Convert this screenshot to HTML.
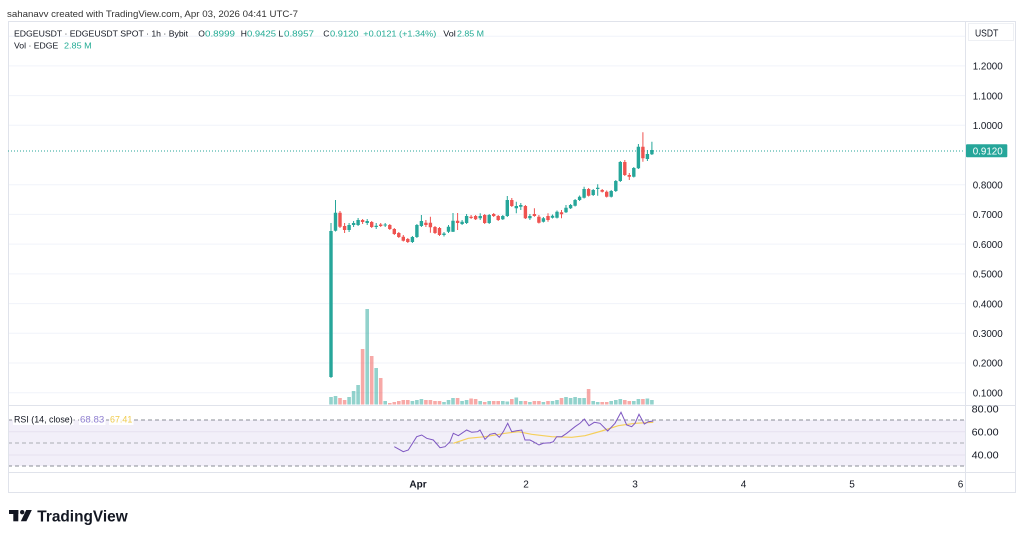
<!DOCTYPE html>
<html>
<head>
<meta charset="utf-8">
<style>
html,body{margin:0;padding:0;background:#fff;}
svg{display:block;font-family:"Liberation Sans",Arial,sans-serif;}
</style>
</head>
<body>
<svg width="1024" height="539" viewBox="0 0 1024 539" xmlns="http://www.w3.org/2000/svg">
<rect x="0" y="0" width="1024" height="539" fill="#ffffff"/>

<!-- header -->
<text x="7" y="17" font-size="9.5" fill="#333" textLength="291" lengthAdjust="spacingAndGlyphs">sahanavv created with TradingView.com, Apr 03, 2026 04:41 UTC-7</text>

<!-- gridlines main pane -->
<g stroke="#f0f3fa" stroke-width="1">
<line x1="8" y1="36.2" x2="965" y2="36.2"/>
<line x1="8" y1="65.9" x2="965" y2="65.9"/>
<line x1="8" y1="95.6" x2="965" y2="95.6"/>
<line x1="8" y1="125.3" x2="965" y2="125.3"/>
<line x1="8" y1="184.7" x2="965" y2="184.7"/>
<line x1="8" y1="214.4" x2="965" y2="214.4"/>
<line x1="8" y1="244.1" x2="965" y2="244.1"/>
<line x1="8" y1="273.9" x2="965" y2="273.9"/>
<line x1="8" y1="303.6" x2="965" y2="303.6"/>
<line x1="8" y1="333.3" x2="965" y2="333.3"/>
<line x1="8" y1="363" x2="965" y2="363"/>
<line x1="8" y1="392.7" x2="965" y2="392.7"/>
</g>

<!-- RSI pane band -->
<rect x="8" y="420" width="957" height="46" fill="#f2eff9"/>
<line x1="8" y1="431.7" x2="965" y2="431.7" stroke="#e6e1f0" stroke-width="1"/>
<line x1="8" y1="455" x2="965" y2="455" stroke="#e6e1f0" stroke-width="1"/>
<line x1="8" y1="420" x2="965" y2="420" stroke="#8a8d96" stroke-width="1" stroke-dasharray="4,3"/>
<line x1="8" y1="443" x2="965" y2="443" stroke="#a9acb4" stroke-width="1" stroke-dasharray="4,3"/>
<line x1="8" y1="466" x2="965" y2="466" stroke="#8a8d96" stroke-width="1" stroke-dasharray="4,3"/>

<!-- frame -->
<rect x="8.5" y="21.5" width="1007" height="471" fill="none" stroke="#e0e3eb" stroke-width="1"/>
<line x1="965.5" y1="21" x2="965.5" y2="493" stroke="#e0e3eb" stroke-width="1"/>
<line x1="8" y1="405.5" x2="1016" y2="405.5" stroke="#e0e3eb" stroke-width="1"/>
<line x1="8" y1="472.5" x2="1016" y2="472.5" stroke="#e0e3eb" stroke-width="1"/>

<!-- legend -->
<text x="14" y="36.7" font-size="8.5" fill="#131722" textLength="174" lengthAdjust="spacingAndGlyphs">EDGEUSDT · EDGEUSDT SPOT · 1h · Bybit</text>
<g font-size="8.5">
<text x="198.3" y="36.7" fill="#131722">O</text>
<text x="205" y="36.7" fill="#22ab94" textLength="30" lengthAdjust="spacingAndGlyphs">0.8999</text>
<text x="240.7" y="36.7" fill="#131722">H</text>
<text x="247" y="36.7" fill="#22ab94" textLength="29" lengthAdjust="spacingAndGlyphs">0.9425</text>
<text x="278.5" y="36.7" fill="#131722">L</text>
<text x="284" y="36.7" fill="#22ab94" textLength="30" lengthAdjust="spacingAndGlyphs">0.8957</text>
<text x="323.3" y="36.7" fill="#131722">C</text>
<text x="330" y="36.7" fill="#22ab94" textLength="28.5" lengthAdjust="spacingAndGlyphs">0.9120</text>
<text x="363.3" y="36.7" fill="#22ab94" textLength="73" lengthAdjust="spacingAndGlyphs">+0.0121 (+1.34%)</text>
<text x="443.3" y="36.7" fill="#131722" textLength="12.5" lengthAdjust="spacingAndGlyphs">Vol</text>
<text x="457" y="36.7" fill="#22ab94" textLength="27" lengthAdjust="spacingAndGlyphs">2.85 M</text>
<text x="14" y="48.7" fill="#131722" textLength="44.3" lengthAdjust="spacingAndGlyphs">Vol · EDGE</text>
<text x="64" y="48.7" fill="#22ab94" textLength="27.7" lengthAdjust="spacingAndGlyphs">2.85 M</text>
</g>

<!-- price axis -->
<rect x="968.5" y="23.5" width="45" height="17" fill="#fff" stroke="#eef0f4" stroke-width="1"/>
<text x="975" y="36.7" font-size="10" fill="#131722" textLength="23.3" lengthAdjust="spacingAndGlyphs">USDT</text>
<g font-size="10.5" fill="#131722">
<text x="972.7" y="69.6" textLength="30" lengthAdjust="spacingAndGlyphs">1.2000</text>
<text x="972.7" y="99.3" textLength="30" lengthAdjust="spacingAndGlyphs">1.1000</text>
<text x="972.7" y="129" textLength="30" lengthAdjust="spacingAndGlyphs">1.0000</text>
<text x="972.7" y="188.4" textLength="30" lengthAdjust="spacingAndGlyphs">0.8000</text>
<text x="972.7" y="218.1" textLength="30" lengthAdjust="spacingAndGlyphs">0.7000</text>
<text x="972.7" y="247.8" textLength="30" lengthAdjust="spacingAndGlyphs">0.6000</text>
<text x="972.7" y="277.6" textLength="30" lengthAdjust="spacingAndGlyphs">0.5000</text>
<text x="972.7" y="307.3" textLength="30" lengthAdjust="spacingAndGlyphs">0.4000</text>
<text x="972.7" y="337" textLength="30" lengthAdjust="spacingAndGlyphs">0.3000</text>
<text x="972.7" y="366.7" textLength="30" lengthAdjust="spacingAndGlyphs">0.2000</text>
<text x="972.7" y="396.4" textLength="30" lengthAdjust="spacingAndGlyphs">0.1000</text>
<text x="971.7" y="412.7" textLength="27" lengthAdjust="spacingAndGlyphs">80.00</text>
<text x="971.7" y="435.7" textLength="27" lengthAdjust="spacingAndGlyphs">60.00</text>
<text x="971.7" y="458.4" textLength="27" lengthAdjust="spacingAndGlyphs">40.00</text>
</g>

<!-- last price line -->
<line x1="8" y1="151" x2="965" y2="151" stroke="#26a69a" stroke-width="1" stroke-dasharray="1,2"/>
<rect x="966" y="144.3" width="41.3" height="13" fill="#26a69a" rx="1"/>
<text x="972.7" y="154.6" font-size="10.5" fill="#ffffff" textLength="30" lengthAdjust="spacingAndGlyphs">0.9120</text>

<!-- volume -->
<path fill="#26a69a" fill-opacity="0.5" d="M329.2 397h3.6V404.5h-3.6zM333.7 396h3.6V404.5h-3.6zM347.3 397h3.6V404.5h-3.6zM351.8 391h3.6V404.5h-3.6zM356.3 385h3.6V404.5h-3.6zM365.4 309h3.6V404.5h-3.6zM374.4 368h3.6V404.5h-3.6zM383.4 401h3.6V404.5h-3.6zM410.6 401h3.6V404.5h-3.6zM415.1 400h3.6V404.5h-3.6zM419.6 399h3.6V404.5h-3.6zM442.2 402h3.6V404.5h-3.6zM446.7 400h3.6V404.5h-3.6zM451.2 398h3.6V404.5h-3.6zM460.3 401h3.6V404.5h-3.6zM464.8 400h3.6V404.5h-3.6zM478.4 401h3.6V404.5h-3.6zM487.4 401h3.6V404.5h-3.6zM501 401h3.6V404.5h-3.6zM505.5 401.5h3.6V404.5h-3.6zM514.5 397.5h3.6V404.5h-3.6zM519 401h3.6V404.5h-3.6zM528.1 402h3.6V404.5h-3.6zM541.6 402h3.6V404.5h-3.6zM550.7 401h3.6V404.5h-3.6zM555.2 400h3.6V404.5h-3.6zM564.2 397h3.6V404.5h-3.6zM568.8 398h3.6V404.5h-3.6zM573.3 397h3.6V404.5h-3.6zM577.8 398h3.6V404.5h-3.6zM582.3 398h3.6V404.5h-3.6zM591.4 401h3.6V404.5h-3.6zM595.9 402h3.6V404.5h-3.6zM609.4 401h3.6V404.5h-3.6zM614 400h3.6V404.5h-3.6zM618.5 399h3.6V404.5h-3.6zM632 401h3.6V404.5h-3.6zM636.6 399h3.6V404.5h-3.6zM645.6 398.5h3.6V404.5h-3.6zM650.1 400h3.6V404.5h-3.6z"/>
<path fill="#ef5350" fill-opacity="0.5" d="M338.2 398h3.6V404.5h-3.6zM342.8 400h3.6V404.5h-3.6zM360.8 349h3.6V404.5h-3.6zM369.9 356h3.6V404.5h-3.6zM378.9 378h3.6V404.5h-3.6zM388 403h3.6V404.5h-3.6zM392.5 402h3.6V404.5h-3.6zM397 401h3.6V404.5h-3.6zM401.5 400h3.6V404.5h-3.6zM406 400h3.6V404.5h-3.6zM424.1 400h3.6V404.5h-3.6zM428.6 400h3.6V404.5h-3.6zM433.2 401h3.6V404.5h-3.6zM437.7 401h3.6V404.5h-3.6zM455.8 398h3.6V404.5h-3.6zM469.3 398.5h3.6V404.5h-3.6zM473.8 399h3.6V404.5h-3.6zM482.9 402h3.6V404.5h-3.6zM491.9 401h3.6V404.5h-3.6zM496.4 401h3.6V404.5h-3.6zM510 399h3.6V404.5h-3.6zM523.6 401h3.6V404.5h-3.6zM532.6 401h3.6V404.5h-3.6zM537.1 401h3.6V404.5h-3.6zM546.2 401h3.6V404.5h-3.6zM559.7 398h3.6V404.5h-3.6zM586.8 389h3.6V404.5h-3.6zM600.4 402h3.6V404.5h-3.6zM604.9 402h3.6V404.5h-3.6zM623 400h3.6V404.5h-3.6zM627.5 401h3.6V404.5h-3.6zM641.1 399h3.6V404.5h-3.6z"/>

<!-- candle wicks -->
<path fill="none" stroke="#26a69a" stroke-width="1" d="M331 223V378M335.5 200V231.5M349.1 223V232M353.6 221V227M358.1 218V226M367.2 219V225M376.2 223V229M385.2 223V227M412.4 236V243M416.9 224V238M421.4 215V227M444 232V236.5M448.5 225V233M453 213V232M462.1 220V225M466.6 214V224M480.2 213.3V220M489.2 214V224M502.8 215V220M507.3 196V217M516.3 201.7V213.3M520.8 203V210M529.9 214V220M543.4 217V222.5M552.5 214.5V218.5M557 210.5V218.5M566 205V213M570.6 204V209M575.1 199V206.5M579.6 195.5V201M584.1 186.7V198.5M593.2 189V196M597.7 184.3V195.7M611.2 190V197.5M615.8 180V192M620.3 161V182M633.8 167V177.5M638.4 144V169M647.4 150V161M651.9 141.7V155"/>
<path fill="none" stroke="#ef5350" stroke-width="1" d="M340 211V228M344.6 223V233M362.6 219V224M371.7 221V228M380.7 223V227M389.8 224V230M394.3 228V235M398.8 232V238M403.3 235V241.5M407.8 238V243M425.9 220V227M430.4 216.7V232.7M435 226V234M439.5 227V236M457.6 213V230M471.1 215V219M475.6 215V220M484.7 214V224M493.7 213V217M498.2 215V221M511.8 198V207M525.4 205V219M534.4 208.3V216.7M538.9 215V223.5M548 213.3V221.7M561.5 210V218.3M588.6 188V196.5M602.2 189V192.5M606.7 190.5V197.5M624.8 160V176M629.3 173V180M642.9 132.3V161.7"/>

<!-- candle bodies -->
<path fill="#26a69a" d="M329.3 231h3.4V377h-3.4zM333.8 212.7h3.4V230.7h-3.4zM347.4 225h3.4V230h-3.4zM351.9 223h3.4V225h-3.4zM356.4 220h3.4V225h-3.4zM365.5 221h3.4V223h-3.4zM374.5 225.7h3.4V227h-3.4zM383.5 224.5h3.4V225.5h-3.4zM410.7 237h3.4V242h-3.4zM415.2 225h3.4V237h-3.4zM419.7 221h3.4V226h-3.4zM442.3 233.5h3.4V235h-3.4zM446.8 226.7h3.4V231.7h-3.4zM451.3 220.7h3.4V231.7h-3.4zM460.4 221.7h3.4V224h-3.4zM464.9 216h3.4V223h-3.4zM478.5 216h3.4V218.3h-3.4zM487.5 215h3.4V223h-3.4zM501.1 216h3.4V219.3h-3.4zM505.6 200h3.4V216h-3.4zM514.6 206h3.4V208.3h-3.4zM519.1 205h3.4V206.7h-3.4zM528.2 216h3.4V218.3h-3.4zM541.7 218.3h3.4V221.7h-3.4zM550.8 215.7h3.4V217.7h-3.4zM555.3 211.7h3.4V217.7h-3.4zM564.3 207.7h3.4V212.3h-3.4zM568.9 205h3.4V208.3h-3.4zM573.4 200h3.4V205.7h-3.4zM577.9 196.7h3.4V200h-3.4zM582.4 189h3.4V197.7h-3.4zM591.5 190h3.4V195h-3.4zM596 187.7h3.4V189h-3.4zM609.5 191h3.4V196.7h-3.4zM614.1 181h3.4V191h-3.4zM618.6 162h3.4V181h-3.4zM632.1 168h3.4V176.7h-3.4zM636.7 146.7h3.4V168.3h-3.4zM645.7 154h3.4V159h-3.4zM650.2 150h3.4V154.3h-3.4z"/>
<path fill="#ef5350" d="M338.3 212.7h3.4V226.7h-3.4zM342.9 226h3.4V230h-3.4zM360.9 220h3.4V222h-3.4zM370 222h3.4V227h-3.4zM379 224.5h3.4V226h-3.4zM388.1 225h3.4V229h-3.4zM392.6 229h3.4V234h-3.4zM397.1 233h3.4V237h-3.4zM401.6 236.7h3.4V240.7h-3.4zM406.1 239h3.4V242h-3.4zM424.2 222.7h3.4V225h-3.4zM428.7 222.7h3.4V227.3h-3.4zM433.3 227h3.4V233h-3.4zM437.8 228h3.4V235h-3.4zM455.9 220.7h3.4V223h-3.4zM469.4 216.7h3.4V218h-3.4zM473.9 216h3.4V219.3h-3.4zM483 215h3.4V223h-3.4zM492 214h3.4V216h-3.4zM496.5 216h3.4V220h-3.4zM510.1 200h3.4V206h-3.4zM523.7 206h3.4V218.3h-3.4zM532.7 214h3.4V216h-3.4zM537.2 216.7h3.4V222.7h-3.4zM546.3 216h3.4V220h-3.4zM559.8 212.3h3.4V214.3h-3.4zM586.9 189h3.4V195.7h-3.4zM600.5 190h3.4V191.7h-3.4zM605 191.7h3.4V196.7h-3.4zM623.1 162h3.4V175h-3.4zM627.6 175h3.4V176.7h-3.4zM641.2 146.7h3.4V158.3h-3.4z"/>

<!-- RSI lines -->
<polyline fill="none" stroke="#f5cf5a" stroke-width="1.2" points="453.3,443.3 468.3,438.3 485,436.7 505,433.3 518.3,431.7 531.7,434.3 551.7,436.7 571.7,437.3 585,435.7 601.7,431 618.3,425.7 635,423.3 653.3,422.3"/>
<polyline fill="none" stroke="#7e57c2" stroke-width="1" points="394.3,446.7 403.3,451.7 408.3,450 416.7,436.7 421.7,435 426.7,438.3 433.3,440 440,447.7 445,446.7 450,441.7 453.3,433.3 458.3,435.7 466.7,430 471.7,432.3 477.7,431.7 480,430 485,439.3 490,434.3 495,433.3 499.3,437.3 503.3,431.7 507.7,423.3 511.7,431.7 516.7,430.7 521.7,430 525,440 530,440 533.3,441.7 539,445 543.3,443.3 550,442.7 553.3,441.7 556.7,436.7 561.7,436.7 566.7,433.3 575,426.7 580,423.3 584.3,419 589,425.7 594.3,422.3 600,423.3 607.7,431 615,423.3 621,412.3 626.7,425 631.7,426.7 635,423.3 639,414.3 644.3,424 648.3,421.7 653.3,421"/>

<!-- RSI legend -->
<rect x="13" y="414" width="60.5" height="11" fill="#ffffff" fill-opacity="0.9"/>
<rect x="79" y="414" width="26.5" height="11" fill="#ffffff" fill-opacity="0.9"/>
<rect x="109" y="414" width="24.5" height="11" fill="#ffffff" fill-opacity="0.9"/>
<text x="14" y="422.5" font-size="9" fill="#131722" textLength="58.7" lengthAdjust="spacingAndGlyphs">RSI (14, close)</text>
<text x="80" y="422.5" font-size="9" fill="#8f7fd0" textLength="24.3" lengthAdjust="spacingAndGlyphs">68.83</text>
<text x="110" y="422.5" font-size="9" fill="#f0cb4a" textLength="22.3" lengthAdjust="spacingAndGlyphs">67.41</text>

<!-- time axis -->
<g font-size="10" fill="#131722" text-anchor="middle">
<text x="418" y="487.5" font-weight="bold">Apr</text>
<text x="526" y="487.5">2</text>
<text x="635" y="487.5">3</text>
<text x="743.5" y="487.5">4</text>
<text x="852" y="487.5">5</text>
<text x="960.5" y="487.5">6</text>
</g>

<!-- logo -->
<g fill="#131722">
<rect x="9" y="510" width="9.3" height="4"/>
<rect x="13.3" y="510" width="5" height="11.3"/>
<circle cx="22.2" cy="512.2" r="2.2"/>
<polygon points="26.2,510 31.8,510 26.4,521.3 20.8,521.3"/>
</g>
<text x="37.3" y="521.3" font-size="15.5" font-weight="bold" fill="#131722" textLength="90.4" lengthAdjust="spacingAndGlyphs">TradingView</text>
</svg>
</body>
</html>
